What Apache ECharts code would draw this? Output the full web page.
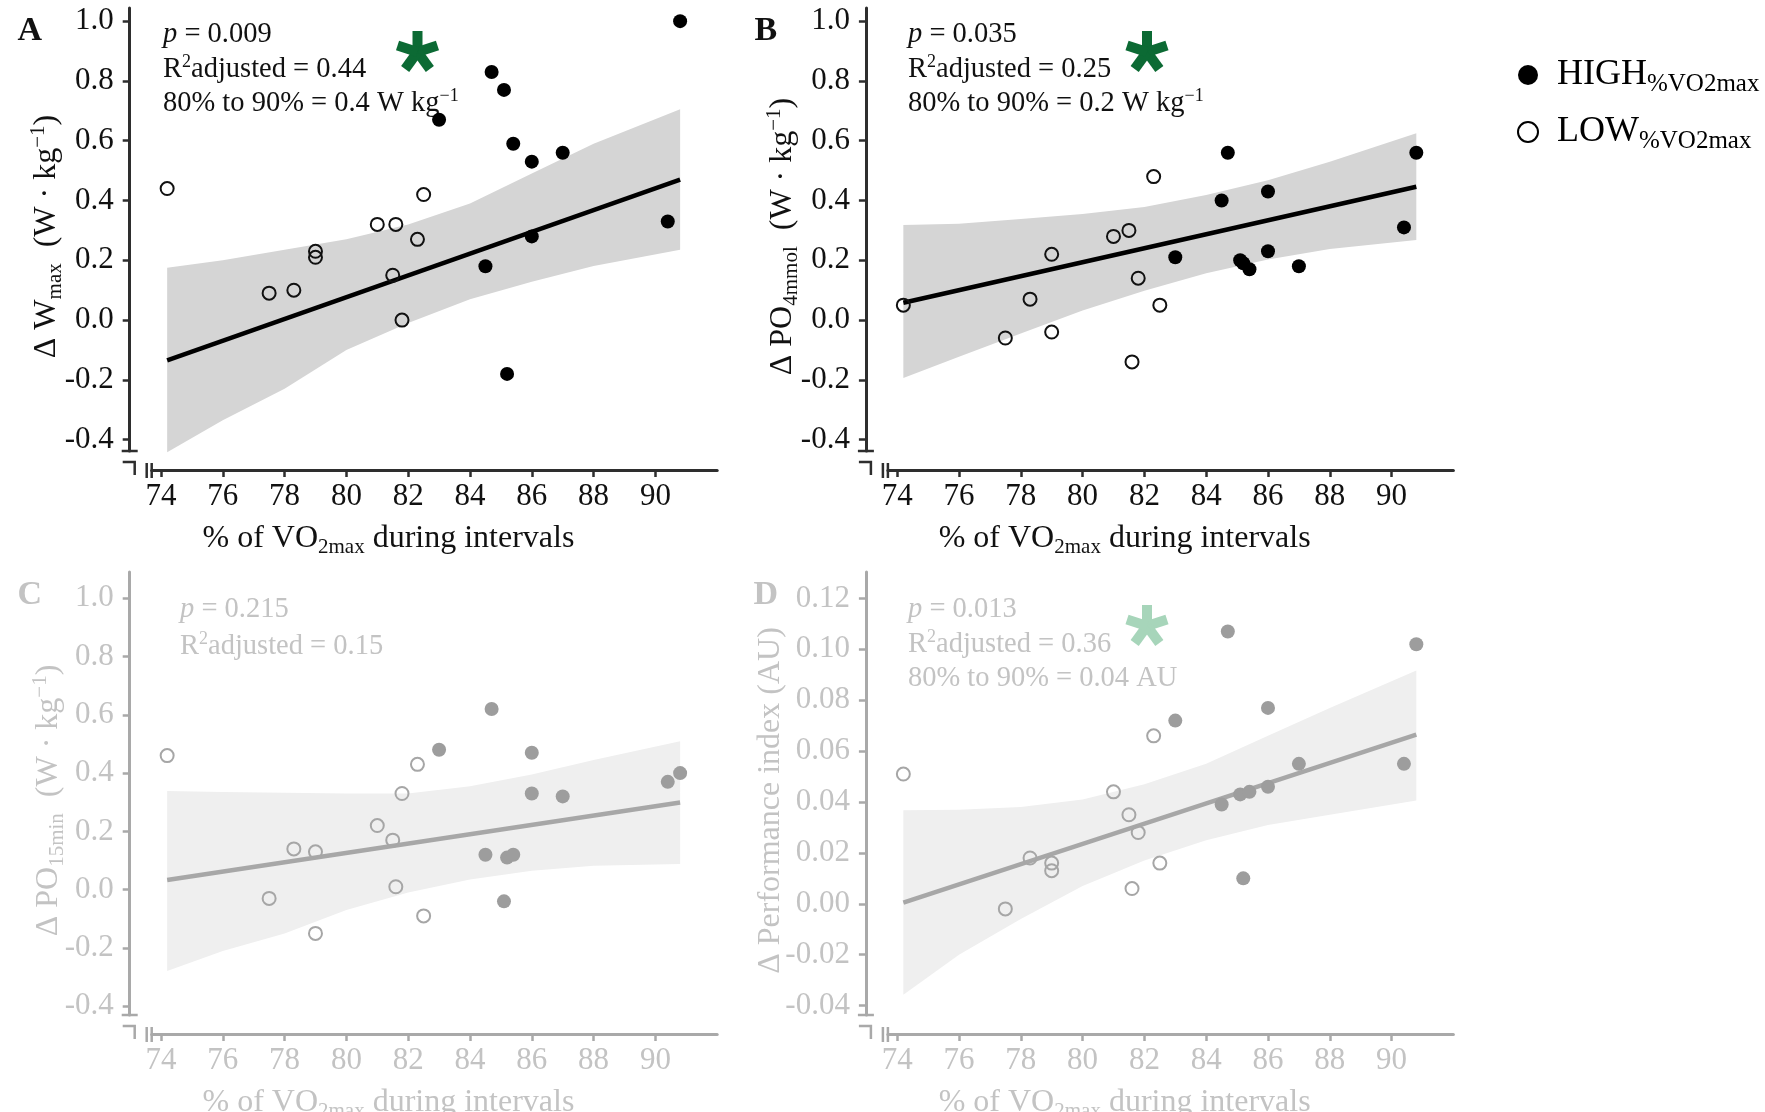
<!DOCTYPE html>
<html>
<head>
<meta charset="utf-8">
<title>% of VO2max during intervals</title>
<script src="https://cdn.jsdelivr.net/npm/echarts@6/dist/echarts.min.js"></script>
<style>
  html, body { margin: 0; padding: 0; background: #ffffff; }
  #chart { width: 1765px; height: 1112px; }
</style>
</head>
<body>
<div id="chart"></div>
<script>
// ---------- data ----------
const xTicks = [74, 76, 78, 80, 82, 84, 86, 88, 90];
const yTicksW = [-0.4, -0.2, 0.0, 0.2, 0.4, 0.6, 0.8, 1.0];
const yTicksPI = [-0.04, -0.02, 0.00, 0.02, 0.04, 0.06, 0.08, 0.10, 0.12];

// x positions where the 95% confidence band is given
const bandX = [74.2, 76, 78, 80, 82, 84, 86, 88, 90.8];

// A: delta Wmax
const highA = [[83.0, 0.67], [84.5, 0.18], [84.7, 0.83], [85.1, 0.77], [85.2, -0.18], [85.4, 0.59],
               [86.0, 0.53], [86.0, 0.28], [87.0, 0.56], [90.4, 0.33], [90.8, 1.00]];
const lowA = [[74.2, 0.44], [77.5, 0.09], [78.3, 0.10], [79.0, 0.23], [79.0, 0.21], [81.0, 0.32],
              [81.5, 0.15], [81.6, 0.32], [81.8, 0.00], [82.3, 0.27], [82.5, 0.42]];
const fitA = [[74.2, -0.135], [90.8, 0.47]];
const bandUpA = [0.175, 0.20, 0.235, 0.27, 0.32, 0.39, 0.49, 0.59, 0.705];
const bandLoA = [-0.442, -0.335, -0.23, -0.10, -0.01, 0.07, 0.128, 0.181, 0.235];

// B: delta PO4mmol
const highB = [[83.0, 0.21], [84.5, 0.40], [84.7, 0.56], [85.1, 0.20], [85.2, 0.19], [85.4, 0.17],
               [86.0, 0.43], [86.0, 0.23], [87.0, 0.18], [90.4, 0.31], [90.8, 0.56]];
const lowB = [[74.2, 0.05], [77.5, -0.06], [78.3, 0.07], [79.0, 0.22], [79.0, -0.04], [81.0, 0.28],
              [81.5, 0.30], [81.6, -0.14], [81.8, 0.14], [82.3, 0.48], [82.5, 0.05]];
const fitB = [[74.2, 0.058], [90.8, 0.446]];
const bandUpB = [0.318, 0.322, 0.338, 0.355, 0.378, 0.418, 0.468, 0.53, 0.625];
const bandLoB = [-0.194, -0.123, -0.045, 0.032, 0.098, 0.157, 0.203, 0.238, 0.268];

// C: delta PO15min
const highC = [[83.0, 0.48], [84.5, 0.12], [84.7, 0.62], [85.1, -0.04], [85.2, 0.11], [85.4, 0.12],
               [86.0, 0.47], [86.0, 0.33], [87.0, 0.32], [90.4, 0.37], [90.8, 0.40]];
const lowC = [[74.2, 0.46], [77.5, -0.03], [78.3, 0.14], [79.0, 0.13], [79.0, -0.15], [81.0, 0.22],
              [81.5, 0.17], [81.6, 0.01], [81.8, 0.33], [82.3, 0.43], [82.5, -0.09]];
const fitC = [[74.2, 0.033], [90.8, 0.299]];
const bandUpC = [0.339, 0.335, 0.333, 0.33, 0.33, 0.355, 0.395, 0.445, 0.509];
const bandLoC = [-0.279, -0.21, -0.15, -0.07, -0.01, 0.035, 0.065, 0.082, 0.088];

// D: delta performance index
const highD = [[83.0, 0.072], [84.5, 0.039], [84.7, 0.107], [85.1, 0.043], [85.2, 0.010], [85.4, 0.044],
               [86.0, 0.077], [86.0, 0.046], [87.0, 0.055], [90.4, 0.055], [90.8, 0.102]];
const lowD = [[74.2, 0.051], [77.5, -0.002], [78.3, 0.018], [79.0, 0.016], [79.0, 0.013], [81.0, 0.044],
              [81.5, 0.035], [81.6, 0.006], [81.8, 0.028], [82.3, 0.066], [82.5, 0.016]];
const fitD = [[74.2, 0.0005], [90.8, 0.0665]];
const bandUpD = [0.0368, 0.037, 0.038, 0.041, 0.047, 0.055, 0.066, 0.077, 0.0917];
const bandLoD = [-0.0357, -0.020, -0.006, 0.007, 0.017, 0.025, 0.031, 0.035, 0.0406];

// ---------- styling ----------
const SERIF = "'Liberation Serif', 'Times New Roman', serif";
const dark = { text: '#111111', axis: '#2e2e2e', pt: '#000000', ring: '#111111', fit: '#000000', band: '#d5d5d5', star: '#0c6a34' };
const pale = { text: '#c3c3c3', axis: '#a9a9a9', pt: '#9d9d9d', ring: '#a6a6a6', fit: '#a7a7a7', band: '#efefef', star: '#a7d5ba' };

const COLS = [151.7, 887.9];
const ROWS = [8, 572];
const GW = 565.5, GH = 443;
const Y_OFF = 22, X_OFF = 19;

// rich text styles with sub/superscripts (d = drop of subscript baseline, u = rise of superscript)
function richSet(F, f, color, d, u) {
  const LM = Math.round(F * 1.2);
  const base = { fontFamily: SERIF, color: color, fill: color };
  return {
    n: Object.assign({}, base, { fontSize: F, lineHeight: LM }),
    i: Object.assign({}, base, { fontSize: F, lineHeight: LM, fontStyle: 'italic' }),
    sub: Object.assign({}, base, { fontSize: f, lineHeight: LM - 2 * d + 0.66 * (f - F), verticalAlign: 'bottom' }),
    sup: Object.assign({}, base, { fontSize: f, lineHeight: LM + 0.66 * (F - f) - 2 * u, verticalAlign: 'top' })
  };
}

const panels = [
  { letter: 'A', col: 0, row: 0, st: dark, high: highA, low: lowA, fit: fitA, up: bandUpA, lo: bandLoA,
    yMin: -0.438, yMax: 1.044, yTicks: yTicksW, dec: 1, nameGap: 64,
    yName: '{n|\u0394 W}{sub|max}{n|  (W \u00b7 kg}{sup|\u22121}{n|)}',
    stats: { x: 163, y: [35, 70, 104], lines: ['{i|p}{n| = 0.009}', '{n|R}{sup|2}{n|adjusted = 0.44}', '{n|80% to 90% = 0.4 W kg}{sup|\u22121}'] },
    star: [417.5, 52] },
  { letter: 'B', col: 1, row: 0, st: dark, high: highB, low: lowB, fit: fitB, up: bandUpB, lo: bandLoB,
    yMin: -0.438, yMax: 1.044, yTicks: yTicksW, dec: 1, nameGap: 64,
    yName: '{n|\u0394 PO}{sub|4mmol}{n|  (W \u00b7 kg}{sup|\u22121}{n|)}',
    stats: { x: 908, y: [35, 70, 104], lines: ['{i|p}{n| = 0.035}', '{n|R}{sup|2}{n|adjusted = 0.25}', '{n|80% to 90% = 0.2 W kg}{sup|\u22121}'] },
    star: [1147, 52] },
  { letter: 'C', col: 0, row: 1, st: pale, high: highC, low: lowC, fit: fitC, up: bandUpC, lo: bandLoC,
    yMin: -0.43, yMax: 1.09, yTicks: yTicksW, dec: 1, nameGap: 62,
    yName: '{n|\u0394 PO}{sub|15min}{n|  (W \u00b7 kg}{sup|\u22121}{n|)}',
    stats: { x: 180, y: [610, 647], lines: ['{i|p}{n| = 0.215}', '{n|R}{sup|2}{n|adjusted = 0.15}'] },
    star: null },
  { letter: 'D', col: 1, row: 1, st: pale, high: highD, low: lowD, fit: fitD, up: bandUpD, lo: bandLoD,
    yMin: -0.0437, yMax: 0.1304, yTicks: yTicksPI, dec: 2, nameGap: 76,
    yName: '{n|\u0394 Performance index (AU)}',
    stats: { x: 908, y: [610, 645, 679], lines: ['{i|p}{n| = 0.013}', '{n|R}{sup|2}{n|adjusted = 0.36}', '{n|80% to 90% = 0.04 AU}'] },
    star: [1147, 626] }
];

// ---------- option building ----------
const grids = [], xAxes = [], yAxes = [], series = [], graphics = [];

function bandSeries(idx, up, lo, color) {
  return {
    type: 'custom', xAxisIndex: idx, yAxisIndex: idx, silent: true, z: 1,
    data: bandX.map((x, i) => [x, lo[i], up[i]]),
    encode: { x: 0, y: [1, 2] },
    renderItem: function (params, api) {
      if (params.dataIndex !== 0) return;
      const top = bandX.map((x, i) => api.coord([x, up[i]]));
      const bot = bandX.map((x, i) => api.coord([x, lo[i]])).reverse();
      return { type: 'polygon', shape: { points: top.concat(bot) }, style: { fill: color } };
    }
  };
}

function star(cx, cy, color) {
  const R = 21, w = 10;
  return {
    type: 'group', x: cx, y: cy, silent: true,
    children: [0, 1, 2, 3, 4].map(k => ({
      type: 'rect', shape: { x: -w / 2, y: -R, width: w, height: R },
      rotation: -k * 2 * Math.PI / 5, style: { fill: color }
    }))
  };
}

function seg(x1, y1, x2, y2, color) {
  return { type: 'line', silent: true, shape: { x1: x1, y1: y1, x2: x2, y2: y2 }, style: { stroke: color, lineWidth: 2.5 } };
}

panels.forEach((p, idx) => {
  const left = COLS[p.col], top = ROWS[p.row];
  const st = p.st;
  grids.push({ left: left, top: top, width: GW, height: GH, containLabel: false, outerBoundsMode: 'none' });

  xAxes.push({
    gridIndex: idx, type: 'value', min: 73.7, max: 92.0, offset: X_OFF,
    axisLine: { show: true, onZero: false, lineStyle: { color: st.axis, width: 3 } },
    axisTick: { show: true, length: 7, customValues: xTicks, lineStyle: { color: st.axis, width: 2.5 } },
    axisLabel: { customValues: xTicks, margin: 11, color: st.text, fontFamily: SERIF, fontSize: 31 },
    splitLine: { show: false },
    name: '{n|% of VO}{sub|2max}{n| during intervals}',
    nameLocation: 'middle', nameGap: 50, nameMoveOverlap: false,
    nameTextStyle: { padding: [0, 92, 0, 0], rich: richSet(32, 21, st.text, 5, 10) }
  });

  yAxes.push({
    gridIndex: idx, type: 'value', min: p.yMin, max: p.yMax, offset: Y_OFF,
    axisLine: { show: true, onZero: false, lineStyle: { color: st.axis, width: 3 } },
    axisTick: { show: true, length: 7, customValues: p.yTicks, lineStyle: { color: st.axis, width: 2.5 } },
    axisLabel: { customValues: p.yTicks, margin: 16, color: st.text, fontFamily: SERIF, fontSize: 31,
                 formatter: v => Number(v).toFixed(p.dec) },
    splitLine: { show: false },
    name: p.yName, nameLocation: 'middle', nameRotate: 90, nameGap: p.nameGap, nameMoveOverlap: false,
    nameTextStyle: { padding: [0, 14, 0, 0], rich: richSet(32, 21, st.text, 6, 12) }
  });

  series.push(bandSeries(idx, p.up, p.lo, st.band));
  series.push({
    type: 'line', xAxisIndex: idx, yAxisIndex: idx, data: p.fit, showSymbol: false, symbol: 'none',
    silent: true, z: 3, lineStyle: { color: st.fit, width: 4.5 }
  });
  series.push({
    type: 'scatter', name: 'HIGH', xAxisIndex: idx, yAxisIndex: idx, data: p.high,
    symbol: 'circle', symbolSize: 14, z: 4, itemStyle: { color: st.pt, opacity: 1 }
  });
  series.push({
    type: 'scatter', name: 'LOW', xAxisIndex: idx, yAxisIndex: idx, data: p.low,
    symbol: 'circle', symbolSize: 13, z: 4,
    itemStyle: { color: 'rgba(255,255,255,0)', borderColor: st.ring, borderWidth: 2, opacity: 1 }
  });

  // panel letter
  graphics.push({
    type: 'text', x: left - 122, y: top + 23, silent: true,
    style: { text: p.letter, fontFamily: SERIF, fontSize: 34, fontWeight: 'bold', fill: st.text,
             align: 'center', verticalAlign: 'middle', textAlign: 'center', textVerticalAlign: 'middle' }
  });

  // regression statistics
  const rs = richSet(28.5, 18, st.text, 5, 11);
  p.stats.lines.forEach((t, k) => {
    graphics.push({
      type: 'text', x: p.stats.x, y: p.stats.y[k], silent: true,
      style: { text: t, rich: rs, fontFamily: SERIF, fontSize: 28.5, fill: st.text,
               align: 'left', verticalAlign: 'middle', textAlign: 'left', textVerticalAlign: 'middle' }
    });
  });

  if (p.star) graphics.push(star(p.star[0], p.star[1], st.star));

  // axis caps and break marks at the lower-left corner
  const ax = left - Y_OFF, by = top + GH;
  graphics.push(seg(ax - 8, by, ax + 8, by, st.axis));
  graphics.push({ type: 'polyline', silent: true,
    shape: { points: [[ax - 7, by + 11], [ax + 5, by + 11], [ax + 5, by + 24]] },
    style: { stroke: st.axis, lineWidth: 2.5, fill: null } });
  graphics.push(seg(ax + 17, by + 12, ax + 17, by + 27, st.axis));
  graphics.push(seg(ax + 22, by + 12, ax + 22, by + 27, st.axis));
});

const legendRich = {
  m: { fontFamily: SERIF, fontSize: 36, lineHeight: 44, color: '#000', padding: [0, 0, 0, 14] },
  s: { fontFamily: SERIF, fontSize: 25, lineHeight: 19, color: '#000', verticalAlign: 'bottom' }
};

const option = {
  animation: false,
  backgroundColor: '#ffffff',
  grid: grids,
  xAxis: xAxes,
  yAxis: yAxes,
  series: series,
  legend: {
    left: 1512, top: 52, orient: 'vertical', itemWidth: 20, itemHeight: 20, itemGap: 17,
    selectedMode: false,
    data: [
      { name: 'HIGH', icon: 'circle', itemStyle: { color: '#000', borderWidth: 0 } },
      { name: 'LOW', icon: 'circle', itemStyle: { color: 'rgba(255,255,255,0)', borderColor: '#000', borderWidth: 2 } }
    ],
    formatter: name => '{m|' + name + '}{s|%VO2max}',
    textStyle: { rich: legendRich }
  },
  graphic: { elements: graphics }
};

const chart = echarts.init(document.getElementById('chart'), null, { renderer: 'canvas' });
chart.setOption(option);
</script>
</body>
</html>
